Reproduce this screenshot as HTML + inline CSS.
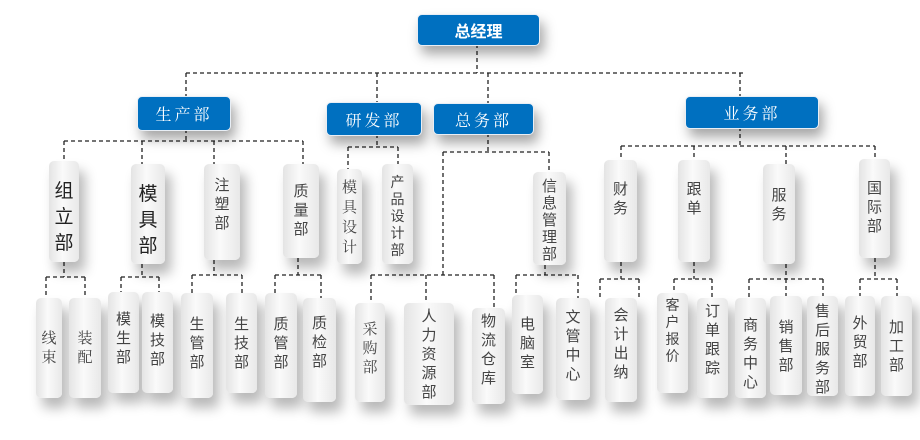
<!DOCTYPE html>
<html><head><meta charset="utf-8"><style>
body{margin:0;width:920px;height:440px;background:#fff;position:relative;overflow:hidden;font-family:"Liberation Sans","Noto Sans CJK SC",sans-serif}
.b{position:absolute;background:#0070c0;color:#fff;border-radius:5px;display:flex;align-items:center;justify-content:center;font-size:16px;letter-spacing:3px;box-shadow:4px 8px 12px rgba(0,0,0,.35);font-family:"Noto Serif CJK SC",serif;border:1px solid #e8eef5}
.g{position:absolute;background:linear-gradient(90deg,#e4e4e4,#fafafa 45%,#e8e8e8);border-radius:5px;display:flex;justify-content:center;padding-top:12px;box-sizing:border-box;color:#444;font-size:15px;line-height:19px;box-shadow:6px 10px 12px rgba(0,0,0,.28);text-align:center}
.g span{width:1em;display:block}
.l2{font-size:19px;line-height:26px;color:#222;padding-top:18px}
svg{position:absolute;left:0;top:0}
</style></head><body>
<svg width="920" height="440"><g stroke="#222" stroke-width="1.3" stroke-dasharray="4,3" fill="none">
<path d="M477 44V73M186 73H745M186 73V96M377 73V102M488 73V103M740 73V96"/>
<path d="M186 129V141M64 141H303M64 141V161M142 141V164M214 141V164M303 141V164"/>
<path d="M64 262V277M46 277H85M46 277V298M85 277V298"/>
<path d="M142 264V277M121 277H159M121 277V292M159 277V292"/>
<path d="M214 260V275M192 275H242M192 275V293M242 275V293"/>
<path d="M298 258V275M275 275H321M275 275V293M321 275V298"/>
<path d="M377 134V147M348 147H398M348 147V169M398 147V164"/>
<path d="M488 133V152M443 152H549M549 152V172M443 152V275M371 275H494M371 275V303M426 275V303M494 275V308"/>
<path d="M545 265V275M516 275H578M516 275V295M578 275V298"/>
<path d="M740 127V146M621 146H875M621 146V160M694 146V160M786 146V164M875 146V159"/>
<path d="M621 262V279M600 279H639M600 279V298M639 279V298"/>
<path d="M694 262V279M674 279H712M674 279V293M712 279V298"/>
<path d="M786 264V279M749 279H823M749 279V298M786 279V296M823 279V296"/>
<path d="M875 258V279M860 279H897M860 279V296M897 279V296"/>
</g></svg>
<div class="b" style="left:417px;top:14px;width:121px;height:30px;font-family:'Liberation Sans','Noto Sans CJK SC',sans-serif;font-weight:bold;letter-spacing:0">总经理</div>
<div class="b" style="left:137px;top:96px;width:92px;height:33px">生产部</div>
<div class="b" style="left:326px;top:102px;width:94px;height:32px">研发部</div>
<div class="b" style="left:433px;top:103px;width:99px;height:30px">总务部</div>
<div class="b" style="left:685px;top:96px;width:132px;height:31px">业务部</div>

<div class="g l2" style="left:49px;top:161px;width:30px;height:101px"><span>组立部</span></div>
<div class="g l2" style="left:131px;top:164px;width:34px;height:100px"><span>模具部</span></div>
<div class="g" style="left:204px;top:164px;width:36px;height:96px"><span>注塑部</span></div>
<div class="g" style="left:283px;top:164px;width:36px;height:94px;padding-top:18px"><span>质量部</span></div>
<div class="g" style="left:337px;top:169px;width:25px;height:95px;padding-top:8px;line-height:20px;font-family:'Noto Serif CJK SC',serif"><span>模具设计</span></div>
<div class="g" style="left:382px;top:164px;width:31px;height:100px;padding-top:10px;line-height:17px;font-size:14px"><span>产品设计部</span></div>
<div class="g" style="left:533px;top:172px;width:33px;height:93px;padding-top:6px;line-height:17px"><span>信息管理部</span></div>
<div class="g" style="left:604px;top:160px;width:33px;height:102px;padding-top:20px"><span>财务</span></div>
<div class="g" style="left:678px;top:160px;width:32px;height:102px;padding-top:20px"><span>跟单</span></div>
<div class="g" style="left:763px;top:164px;width:32px;height:100px;padding-top:22px"><span>服务</span></div>
<div class="g" style="left:859px;top:159px;width:31px;height:99px;padding-top:20px"><span>国际部</span></div>

<div class="g" style="left:36px;top:298px;width:26px;height:100px;padding-top:30px;font-family:'Noto Serif CJK SC',serif"><span>线束</span></div>
<div class="g" style="left:69px;top:298px;width:32px;height:100px;padding-top:30px;font-family:'Noto Serif CJK SC',serif"><span>装配</span></div>
<div class="g" style="left:108px;top:292px;width:31px;height:101px;padding-top:18px"><span>模生部</span></div>
<div class="g" style="left:142px;top:292px;width:31px;height:101px;padding-top:20px"><span>模技部</span></div>
<div class="g" style="left:181px;top:293px;width:32px;height:105px;padding-top:22px"><span>生管部</span></div>
<div class="g" style="left:226px;top:293px;width:31px;height:100px;padding-top:22px"><span>生技部</span></div>
<div class="g" style="left:265px;top:293px;width:32px;height:105px;padding-top:22px"><span>质管部</span></div>
<div class="g" style="left:303px;top:298px;width:33px;height:104px;padding-top:16px"><span>质检部</span></div>
<div class="g" style="left:355px;top:303px;width:30px;height:99px;padding-top:16px;font-family:'Noto Serif CJK SC',serif"><span>采购部</span></div>
<div class="g" style="left:404px;top:303px;width:50px;height:102px;padding-top:4px"><span>人力资源部</span></div>
<div class="g" style="left:472px;top:308px;width:33px;height:96px;padding-top:4px"><span>物流仓库</span></div>
<div class="g" style="left:512px;top:295px;width:31px;height:99px;padding-top:20px"><span>电脑室</span></div>
<div class="g" style="left:556px;top:298px;width:34px;height:102px;padding-top:10px"><span>文管中心</span></div>
<div class="g" style="left:605px;top:298px;width:32px;height:104px;padding-top:8px"><span>会计出纳</span></div>
<div class="g" style="left:657px;top:293px;width:31px;height:100px;padding-top:4px;font-size:14px;line-height:17px"><span>客户报价</span></div>
<div class="g" style="left:697px;top:298px;width:31px;height:100px;padding-top:4px"><span>订单跟踪</span></div>
<div class="g" style="left:735px;top:298px;width:31px;height:100px;padding-top:18px"><span>商务中心</span></div>
<div class="g" style="left:770px;top:296px;width:32px;height:99px;padding-top:22px"><span>销售部</span></div>
<div class="g" style="left:807px;top:296px;width:31px;height:100px;padding-top:6px"><span>售后服务部</span></div>
<div class="g" style="left:845px;top:296px;width:30px;height:100px;padding-top:18px"><span>外贸部</span></div>
<div class="g" style="left:881px;top:296px;width:31px;height:100px;padding-top:22px"><span>加工部</span></div>
</body></html>
